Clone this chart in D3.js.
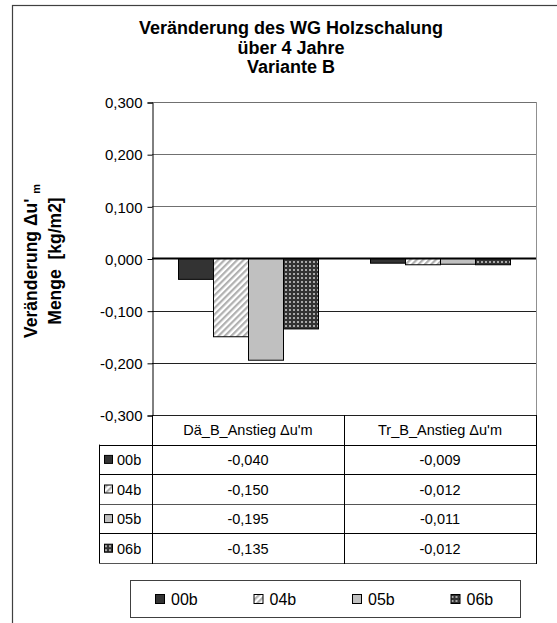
<!DOCTYPE html>
<html>
<head>
<meta charset="utf-8">
<script src="https://cdn.jsdelivr.net/npm/d3@7/dist/d3.min.js"></script>
<style>
  html, body { margin: 0; padding: 0; background: #fff; }
  svg { display: block; }
  text { font-family: "Liberation Sans", Arial, sans-serif; fill: #000; }
</style>
</head>
<body>
<svg id="chart" width="557" height="623"></svg>
<script>
// Chart content
const titleLines = ["Veränderung des WG Holzschalung", "über 4 Jahre", "Variante B"];
const categories = ["Dä_B_Anstieg Δu'm", "Tr_B_Anstieg Δu'm"];
const seriesNames = ["00b", "04b", "05b", "06b"];
const values00b = [-0.040, -0.009];
const values04b = [-0.150, -0.012];
const values05b = [-0.195, -0.011];
const values06b = [-0.135, -0.012];
const yTicks = [0.3, 0.2, 0.1, 0.0, -0.1, -0.2, -0.3];

const seriesValues = [values00b, values04b, values05b, values06b];
const series = seriesNames.map((name, i) => ({ name, values: seriesValues[i] }));

const svg = d3.select("#chart");
const fmt = v => d3.format(".3f")(v).replace(".", ",").replace("−", "-");

// Fill patterns for each series
const defs = svg.append("defs");
const pStripe = defs.append("pattern").attr("id", "p04").attr("patternUnits", "userSpaceOnUse")
  .attr("width", 4.5).attr("height", 4.5).attr("patternTransform", "rotate(45)");
pStripe.append("rect").attr("width", 4.5).attr("height", 4.5).attr("fill", "#ffffff");
pStripe.append("rect").attr("width", 2.2).attr("height", 4.5).attr("fill", "#b0b0b0");

const pDots = defs.append("pattern").attr("id", "p06").attr("patternUnits", "userSpaceOnUse")
  .attr("width", 4).attr("height", 4);
pDots.append("rect").attr("width", 4).attr("height", 4).attr("fill", "#333333");
pDots.append("rect").attr("x", 1).attr("y", 1).attr("width", 2).attr("height", 2).attr("fill", "#a8a8a8");

const fills = { "00b": "#333333", "04b": "url(#p04)", "05b": "#c0c0c0", "06b": "url(#p06)" };

// Outer chart frame
svg.append("rect").attr("x", 12.5).attr("y", 5.5).attr("width", 620).attr("height", 700)
  .attr("fill", "none").attr("stroke", "#404040").attr("stroke-width", 1.2);

// Title
svg.append("g").selectAll("text").data(titleLines).join("text")
  .attr("x", 291).attr("y", (d, i) => 34 + i * 19.5)
  .attr("text-anchor", "middle").attr("font-size", 18).attr("font-weight", "bold")
  .text(d => d);

// Scales
const plotL = 152, plotR = 536, plotT = 102, plotB = 415;
const y = d3.scaleLinear().domain([-0.3, 0.3]).range([plotB, plotT]);
const x0 = d3.scaleBand().domain(categories).range([plotL, plotR]);
const x1 = d3.scaleBand().domain(seriesNames).range([26, x0.bandwidth() - 26]);

// Right border of plot area
svg.append("line").attr("x1", plotR + 0.5).attr("x2", plotR + 0.5).attr("y1", plotT).attr("y2", plotB)
  .attr("stroke", "#909090");

// Gridlines
svg.append("g").selectAll("line").data(yTicks.filter(d => d !== 0)).join("line")
  .attr("x1", plotL).attr("x2", plotR)
  .attr("y1", d => Math.round(y(d)) + 0.5).attr("y2", d => Math.round(y(d)) + 0.5)
  .attr("stroke", d => d > 0 ? "#707070" : "#202020");

// Y axis
const yAxis = d3.axisLeft(y).tickValues(yTicks).tickSize(5).tickFormat(fmt);
const gy = svg.append("g").attr("transform", `translate(${plotL + 0.5},0.5)`).call(yAxis);
gy.attr("font-size", 15).attr("font-family", "'Liberation Sans', Arial, sans-serif");
gy.select(".domain").attr("stroke", "#000");
gy.selectAll(".tick line").attr("stroke", "#000");
gy.selectAll(".tick text").attr("font-size", 15).attr("x", -10).attr("dy", "0.35em");

// Bars
const groups = svg.append("g").selectAll("g").data(categories).join("g")
  .attr("transform", d => `translate(${x0(d)},0)`);
groups.selectAll("rect").data((c, ci) => series.map(s => ({ name: s.name, v: s.values[ci] })))
  .join("rect")
  .attr("x", d => x1(d.name) + 0.5)
  .attr("y", d => Math.min(y(0), y(d.v)))
  .attr("width", x1.bandwidth())
  .attr("height", d => Math.abs(y(d.v) - y(0)))
  .attr("fill", d => fills[d.name])
  .attr("stroke", "#000").attr("stroke-width", 1);

// Zero line
svg.append("line").attr("x1", plotL).attr("x2", plotR).attr("y1", y(0)).attr("y2", y(0))
  .attr("stroke", "#000").attr("stroke-width", 2);

// Y axis title
const yTitle = svg.append("g").attr("transform", "translate(0,261) rotate(-90)");
const t1 = yTitle.append("text").attr("x", 0).attr("y", 37).attr("text-anchor", "middle")
  .attr("font-size", 17.5).attr("font-weight", "bold");
t1.append("tspan").text("Veränderung Δu' ");
t1.append("tspan").attr("font-size", 11).attr("dy", 3).text("m");
yTitle.append("text").attr("x", 0).attr("y", 61).attr("text-anchor", "middle")
  .attr("font-size", 17.5).attr("font-weight", "bold").attr("xml:space", "preserve")
  .text("Menge  [kg/m2]");

// Data table
const tableL = 99, rowH = 29.6;
const rowY = i => plotB + rowH * (i + 1);
const tbl = svg.append("g");
// header cells
tbl.selectAll("text.hdr").data(categories).join("text").attr("class", "hdr")
  .attr("x", d => x0(d) + x0.bandwidth() / 2).attr("y", plotB + rowH / 2 + 5)
  .attr("text-anchor", "middle").attr("font-size", 14.5).text(d => d);
// horizontal rules
tbl.selectAll("line.h").data(d3.range(series.length + 1)).join("line").attr("class", "h")
  .attr("x1", tableL).attr("x2", plotR + 1)
  .attr("y1", i => Math.round(rowY(i)) + 0.5).attr("y2", i => Math.round(rowY(i)) + 0.5)
  .attr("stroke", (i) => i === 2 || i === 4 ? "#555" : "#000");
// vertical rules
tbl.append("line").attr("x1", tableL + 0.5).attr("x2", tableL + 0.5)
  .attr("y1", rowY(0)).attr("y2", rowY(series.length)).attr("stroke", "#000");
tbl.append("line").attr("x1", plotL + 0.5).attr("x2", plotL + 0.5)
  .attr("y1", plotB).attr("y2", rowY(series.length) + 1).attr("stroke", "#000");
tbl.append("line").attr("x1", x0(categories[1]) + 0.5).attr("x2", x0(categories[1]) + 0.5)
  .attr("y1", plotB).attr("y2", rowY(series.length) + 1).attr("stroke", "#000");
tbl.append("line").attr("x1", plotR + 0.5).attr("x2", plotR + 0.5)
  .attr("y1", plotB).attr("y2", rowY(series.length) + 1).attr("stroke", "#000");
// row keys and values
const rows = tbl.selectAll("g.row").data(series).join("g").attr("class", "row")
  .attr("transform", (d, i) => `translate(0,${rowY(i) + rowH / 2})`);
rows.append("rect").attr("x", 104.5).attr("y", -4).attr("width", 8).attr("height", 8)
  .attr("fill", d => fills[d.name]).attr("stroke", "#000");
rows.append("text").attr("x", 117).attr("y", 5.5).attr("font-size", 14.5).text(d => d.name);
rows.selectAll("text.val").data(d => d.values).join("text").attr("class", "val")
  .attr("x", (v, ci) => x0(categories[ci]) + x0.bandwidth() / 2).attr("y", 5.5)
  .attr("text-anchor", "middle").attr("font-size", 14.5).text(v => fmt(v));

// Legend
const lg = svg.append("g");
lg.append("rect").attr("x", 130.5).attr("y", 580.5).attr("width", 390).attr("height", 37)
  .attr("fill", "#fff").attr("stroke", "#404040");
const items = lg.selectAll("g.item").data(series).join("g").attr("class", "item")
  .attr("transform", (d, i) => `translate(${155 + i * 98.5},599)`);
items.append("rect").attr("x", 0.5).attr("y", -4.5).attr("width", 9).attr("height", 9)
  .attr("fill", d => fills[d.name]).attr("stroke", "#000");
items.append("text").attr("x", 16).attr("y", 6).attr("font-size", 16).text(d => d.name);
</script>
</body>
</html>
